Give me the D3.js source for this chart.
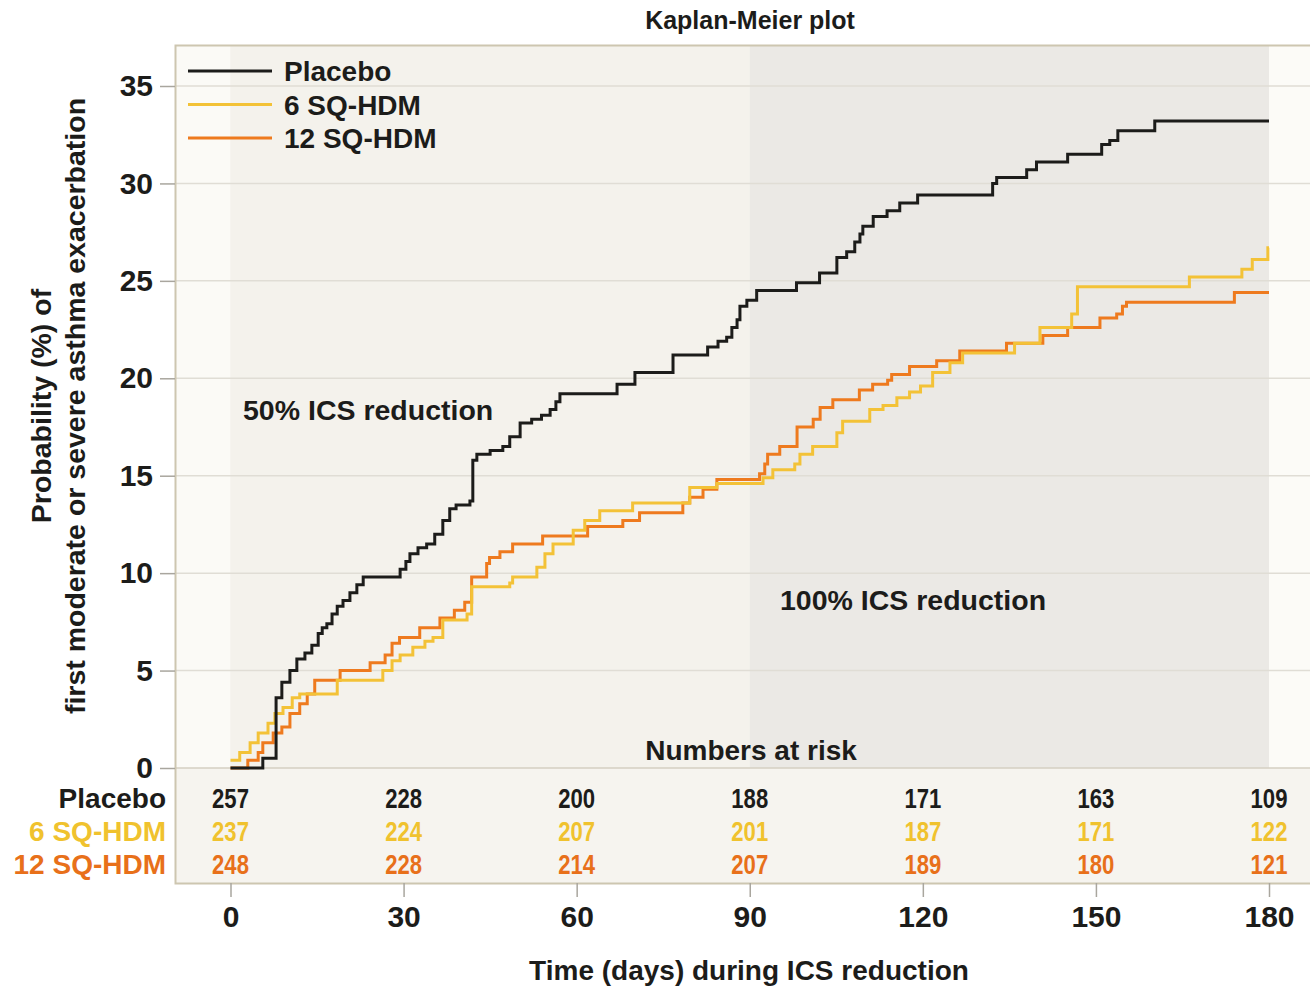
<!DOCTYPE html>
<html>
<head>
<meta charset="utf-8">
<script src="https://cdn.jsdelivr.net/npm/d3@7"></script>
<style>
	body { margin: 0; background: #fff; }
	svg { display: block; font-family: "Liberation Sans", Arial, sans-serif; }
</style>
</head>
<body>
<svg id="chart"></svg>
<script>
// tick values
const dayTicks = [0, 30, 60, 90, 120, 150, 180];
const probTicks = [0, 5, 10, 15, 20, 25, 30, 35];

// series names
const groupNames = ["Placebo", "6 SQ-HDM", "12 SQ-HDM"];

// Kaplan-Meier steps: [day, cumulative probability %]
const placeboSteps = [
	[0, 0], [5.6, 0.5], [7.9, 3.6], [8.9, 4.4], [10.3, 5.0], [11.5, 5.6], [12.9, 5.9], [14.1, 6.3],
	[15.2, 6.9], [15.9, 7.2], [16.7, 7.4], [17.6, 7.9], [18.5, 8.3], [19.5, 8.6], [20.7, 9.0],
	[21.9, 9.4], [23.0, 9.8], [29.4, 10.2], [30.4, 10.6], [31.1, 11.0], [32.5, 11.3], [34.0, 11.5],
	[35.4, 12.0], [36.8, 12.7], [38.0, 13.3], [39.1, 13.5], [41.5, 13.7], [42.0, 15.8], [42.7, 16.1],
	[45.0, 16.3], [47.2, 16.5], [48.4, 17.0], [50.2, 17.7], [52.2, 17.9], [53.9, 18.1], [55.4, 18.4],
	[56.4, 18.8], [57.1, 19.2], [67.0, 19.7], [70.1, 20.3], [76.7, 21.2], [82.7, 21.6], [84.5, 21.9],
	[86.0, 22.1], [86.9, 22.6], [87.8, 23.0], [88.3, 23.7], [89.5, 24.0], [91.2, 24.5], [98.1, 24.9],
	[102.1, 25.4], [105.1, 26.2], [106.8, 26.5], [108.2, 27.0], [109.1, 27.4], [109.6, 27.8],
	[111.4, 28.3], [113.8, 28.6], [116.0, 29.0], [119.1, 29.4], [132.1, 30.0], [132.8, 30.3],
	[138.0, 30.7], [139.7, 31.1], [145.1, 31.5], [151.0, 32.0], [152.4, 32.2], [153.8, 32.7],
	[160.2, 33.2], [180, 33.2]
];

const sq6Steps = [
	[0, 0.4], [1.6, 0.8], [3.4, 1.3], [4.8, 1.8], [6.5, 2.3], [7.7, 2.8], [9.1, 3.1], [10.7, 3.6],
	[12.0, 3.8], [18.5, 4.5], [26.4, 5.0], [28.0, 5.5], [29.4, 5.8], [31.6, 6.2], [33.7, 6.5],
	[35.1, 6.7], [36.8, 7.6], [41.0, 7.9], [41.8, 9.3], [48.4, 9.5], [48.9, 9.8], [53.1, 10.3],
	[54.5, 11.0], [55.9, 11.5], [59.4, 12.2], [61.4, 12.7], [64.0, 13.2], [69.7, 13.6], [79.6, 14.4],
	[84.3, 14.6], [92.3, 14.9], [94.0, 15.3], [97.8, 15.6], [98.7, 16.1], [100.9, 16.5], [105.1, 17.2],
	[106.1, 17.8], [110.8, 18.4], [113.1, 18.6], [115.5, 19.0], [117.7, 19.3], [119.6, 19.6],
	[121.7, 20.3], [124.7, 20.8], [126.9, 21.3], [135.9, 21.8], [140.3, 22.6], [145.8, 23.3],
	[146.8, 24.7], [166.2, 25.2], [175.3, 25.6], [177.1, 26.1], [179.8, 26.7], [180, 26.7]
];

const sq12Steps = [
	[0, 0], [3.0, 0.4], [4.8, 0.8], [5.6, 1.3], [7.4, 1.8], [8.9, 2.1], [10.3, 2.8], [12.0, 3.3],
	[13.3, 3.8], [14.6, 4.5], [19.0, 5.0], [24.2, 5.4], [26.8, 5.8], [28.0, 6.4], [29.3, 6.7],
	[32.8, 7.2], [36.3, 7.7], [38.8, 8.1], [40.6, 8.5], [41.8, 9.8], [44.4, 10.5], [44.9, 10.8],
	[46.7, 11.1], [48.9, 11.5], [54.1, 11.9], [61.9, 12.4], [68.0, 12.7], [70.9, 13.1], [78.4, 13.6],
	[79.6, 13.9], [81.9, 14.3], [84.3, 14.8], [91.7, 15.1], [92.6, 15.6], [93.1, 16.1], [95.2, 16.5],
	[98.2, 17.5], [101.0, 17.9], [102.2, 18.5], [104.4, 18.9], [109.0, 19.4], [111.3, 19.7],
	[113.9, 19.9], [114.6, 20.2], [117.7, 20.6], [122.4, 20.9], [126.4, 21.4], [134.5, 21.8],
	[140.8, 22.2], [145.1, 22.6], [150.7, 23.1], [153.6, 23.3], [154.6, 23.7], [155.3, 23.9],
	[174.0, 24.4], [180, 24.4]
];

// numbers at risk at each day tick
const riskPlacebo = [257, 228, 200, 188, 171, 163, 109];
const riskSq6 = [237, 224, 207, 201, 187, 171, 122];
const riskSq12 = [248, 228, 214, 207, 189, 180, 121];

function drawChart()
{
	let svgWidth = 1310, svgHeight = 987;
	let frame = { left: 175, top: 45, right: 1320, bottom: 883 };
	let colors = ["#1c1c1a", "#f3c237", "#ee7a1e"];
	let textColors = ["#1c1c1a", "#f0c22e", "#e8701a"];
	let curves = [placeboSteps, sq6Steps, sq12Steps];
	let risks = [riskPlacebo, riskSq6, riskSq12];

	let svg = d3.select("#chart")
		.attr("width", svgWidth)
		.attr("height", svgHeight);

	//scales
	let x = d3.scaleLinear()
		.domain([0, 180])
		.range([230.5, 1269]);
	let y = d3.scaleLinear()
		.domain([0, 35])
		.range([768, 86]);

	//frame background
	svg.append("rect")
		.attr("x", frame.left)
		.attr("y", frame.top)
		.attr("width", frame.right - frame.left)
		.attr("height", frame.bottom - frame.top)
		.attr("fill", "#f6f4ef");

	svg.append("rect")
		.attr("x", frame.left)
		.attr("y", frame.top)
		.attr("width", x(0) - frame.left)
		.attr("height", y(0) - frame.top)
		.attr("fill", "#fbfaf6");

	//ICS reduction phases
	svg.append("rect")
		.attr("x", x(0))
		.attr("y", frame.top)
		.attr("width", x(90) - x(0))
		.attr("height", y(0) - frame.top)
		.attr("fill", "#f4f2ec");
	svg.append("rect")
		.attr("x", x(90))
		.attr("y", frame.top)
		.attr("width", x(180) - x(90))
		.attr("height", y(0) - frame.top)
		.attr("fill", "#ebe9e5");
	svg.append("rect")
		.attr("x", x(180))
		.attr("y", frame.top)
		.attr("width", frame.right - x(180))
		.attr("height", y(0) - frame.top)
		.attr("fill", "#fcfbf7");

	//grid lines
	svg.append("g")
		.selectAll("line")
		.data(probTicks)
		.enter()
		.append("line")
		.attr("x1", frame.left)
		.attr("x2", frame.right)
		.attr("y1", d => y(d))
		.attr("y2", d => y(d))
		.attr("stroke", d => d === 0 ? "#d4cfc2" : "#e0ddd5")
		.attr("stroke-width", 1.5);

	//frame border
	svg.append("rect")
		.attr("x", frame.left + 0.5)
		.attr("y", frame.top + 0.5)
		.attr("width", frame.right - frame.left)
		.attr("height", frame.bottom - frame.top)
		.attr("fill", "none")
		.attr("stroke", "#cdc6b0")
		.attr("stroke-width", 2);

	//y-axis
	let yAxis = svg.append("g")
		.attr("transform", "translate(" + frame.left + ",0)")
		.call(d3.axisLeft(y).tickValues(probTicks).tickSize(15).tickPadding(7));
	yAxis.select(".domain").remove();
	yAxis.selectAll(".tick line").attr("stroke", "#a9a69e").attr("stroke-width", 1.5);
	yAxis.selectAll(".tick text")
		.attr("fill", "#1c1c1a")
		.attr("font-size", 30)
		.attr("font-weight", "bold")
		.attr("font-family", "Liberation Sans, Arial, sans-serif");

	//x-axis
	let xAxis = svg.append("g")
		.attr("transform", "translate(0," + frame.bottom + ")")
		.call(d3.axisBottom(x).tickValues(dayTicks).tickSize(14).tickPadding(9));
	xAxis.select(".domain").remove();
	xAxis.selectAll(".tick line").attr("stroke", "#a9a69e").attr("stroke-width", 1.5);
	xAxis.selectAll(".tick text")
		.attr("fill", "#1c1c1a")
		.attr("font-size", 30)
		.attr("font-weight", "bold")
		.attr("font-family", "Liberation Sans, Arial, sans-serif");

	//curves
	let line = d3.line()
		.curve(d3.curveStepAfter)
		.x(d => x(d[0]))
		.y(d => y(d[1]));

	for (let i = curves.length - 1; i >= 0; i--)
	{
		svg.append("path")
			.datum(curves[i])
			.attr("fill", "none")
			.attr("stroke", colors[i])
			.attr("stroke-width", 3)
			.attr("stroke-linejoin", "miter")
			.attr("d", line);
	}

	//legend
	let legend = svg.append("g");
	for (let i = 0; i < groupNames.length; i++)
	{
		let ly = 71 + i * 33.5;
		legend.append("line")
			.attr("x1", 188)
			.attr("x2", 272)
			.attr("y1", ly)
			.attr("y2", ly)
			.attr("stroke", colors[i])
			.attr("stroke-width", 3);
		legend.append("text")
			.attr("x", 284)
			.attr("y", ly)
			.attr("dy", "0.36em")
			.attr("font-size", 28)
			.attr("font-weight", "bold")
			.attr("fill", "#1c1c1a")
			.text(groupNames[i]);
	}

	//phase labels
	svg.append("text")
		.attr("x", 243)
		.attr("y", 410)
		.attr("dy", "0.36em")
		.attr("font-size", 28.5)
		.attr("font-weight", "bold")
		.attr("fill", "#1c1c1a")
		.text("50% ICS reduction");
	svg.append("text")
		.attr("x", 780)
		.attr("y", 600)
		.attr("dy", "0.36em")
		.attr("font-size", 28.5)
		.attr("font-weight", "bold")
		.attr("fill", "#1c1c1a")
		.text("100% ICS reduction");

	//numbers at risk
	svg.append("text")
		.attr("x", 751)
		.attr("y", 750)
		.attr("dy", "0.36em")
		.attr("text-anchor", "middle")
		.attr("font-size", 28)
		.attr("font-weight", "bold")
		.attr("fill", "#1c1c1a")
		.text("Numbers at risk");

	for (let i = 0; i < risks.length; i++)
	{
		let ry = 798 + i * 33;
		svg.append("text")
			.attr("x", 166)
			.attr("y", ry)
			.attr("dy", "0.36em")
			.attr("text-anchor", "end")
			.attr("font-size", 28)
			.attr("font-weight", "bold")
			.attr("fill", textColors[i])
			.text(groupNames[i]);

		svg.append("g")
			.selectAll("text")
			.data(risks[i])
			.enter()
			.append("text")
			.attr("transform", (d, j) => "translate(" + x(dayTicks[j]) + "," + ry + ") scale(0.82,1)")
			.attr("dy", "0.36em")
			.attr("text-anchor", "middle")
			.attr("font-size", 27)
			.attr("font-weight", "bold")
			.attr("fill", textColors[i])
			.text(d => d);
	}

	//title
	svg.append("text")
		.attr("x", 750)
		.attr("y", 20)
		.attr("dy", "0.36em")
		.attr("text-anchor", "middle")
		.attr("font-size", 25)
		.attr("font-weight", "bold")
		.attr("fill", "#1c1c1a")
		.text("Kaplan-Meier plot");

	//x-axis title
	svg.append("text")
		.attr("x", 749)
		.attr("y", 970)
		.attr("dy", "0.36em")
		.attr("text-anchor", "middle")
		.attr("font-size", 28)
		.attr("font-weight", "bold")
		.attr("fill", "#1c1c1a")
		.text("Time (days) during ICS reduction");

	//y-axis title
	let yTitle = svg.append("text")
		.attr("transform", "translate(0,406) rotate(-90)")
		.attr("text-anchor", "middle")
		.attr("font-size", 28.5)
		.attr("font-weight", "bold")
		.attr("fill", "#1c1c1a");
	yTitle.append("tspan")
		.attr("x", 0)
		.attr("y", 51)
		.text("Probability (%) of");
	yTitle.append("tspan")
		.attr("x", 0)
		.attr("y", 85)
		.text("first moderate or severe asthma exacerbation");
}

drawChart();
</script>
</body>
</html>
